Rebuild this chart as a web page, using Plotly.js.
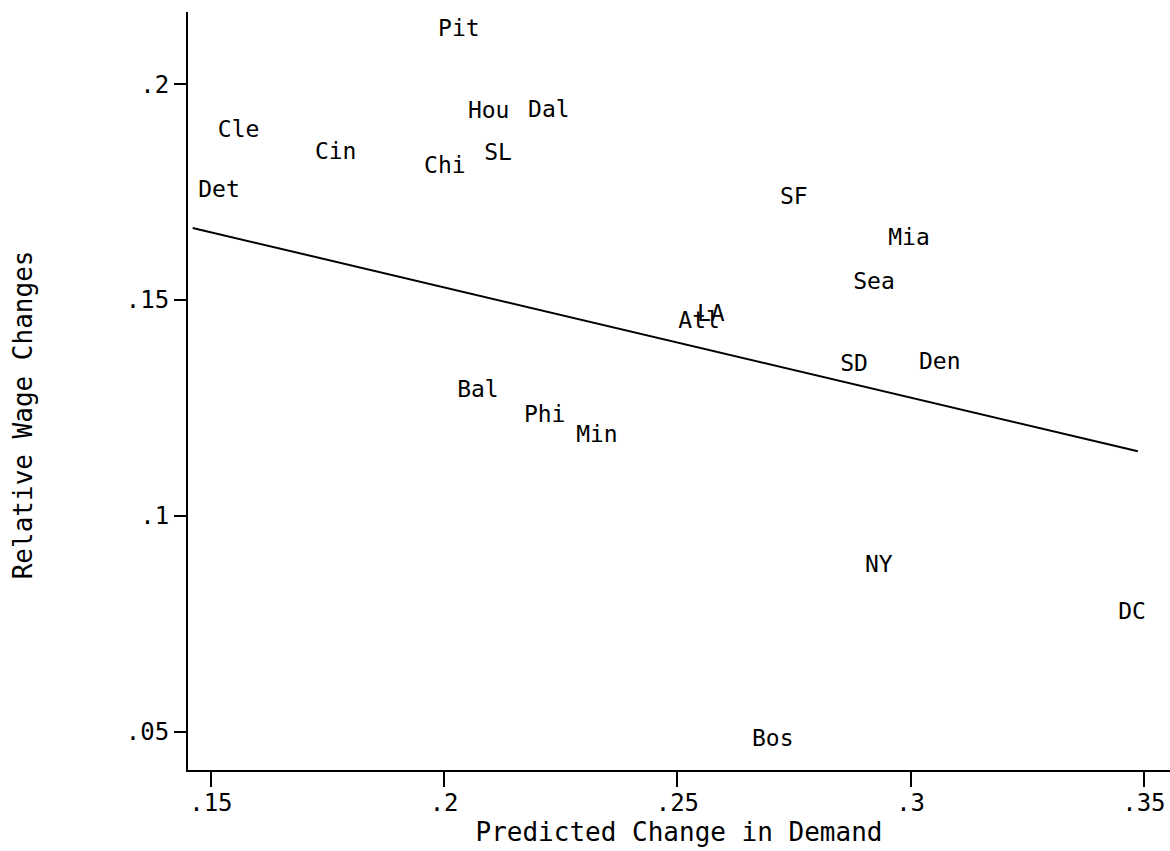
<!DOCTYPE html>
<html>
<head>
<meta charset="utf-8">
<script src="https://cdn.plot.ly/plotly-3.0.1.min.js"></script>
<style>html,body{margin:0;padding:0;background:#fff;}#chart{width:1170px;height:851px;}</style>
</head>
<body>
<div id="chart"></div>
<script>
// City labels and values
const cities = ['Pit','Cle','Hou','Dal','Cin','SL','Chi','Det','SF','Mia','Sea','LA','Atl','SD','Den','Bal','Phi','Min','NY','DC','Bos'];
const demandChange = [0.1987,0.1515,0.2051,0.2180,0.1723,0.2086,0.1957,0.1473,0.2720,0.2952,0.2877,0.2542,0.2502,0.2849,0.3018,0.2028,0.2171,0.2283,0.2902,0.3445,0.2660];
const wageChange   = [0.2124,0.1892,0.1934,0.1938,0.1841,0.1837,0.1807,0.1751,0.1735,0.1640,0.1540,0.1464,0.1448,0.1350,0.1353,0.1288,0.1230,0.1184,0.0883,0.0774,0.0480];

// Fitted line end points
const fitX = [0.1461, 0.3487];
const fitY = [0.1667, 0.1150];

// Tick labels
const xTickVals = [0.15, 0.2, 0.25, 0.3, 0.35];
const xTickText = ['.15', '.2', '.25', '.3', '.35'];
const yTickVals = [0.05, 0.1, 0.15, 0.2];
const yTickText = ['.05', '.1', '.15', '.2'];

const xTitle = 'Predicted Change in Demand';
const yTitle = 'Relative Wage Changes';

const FONT = 'DejaVu Sans Mono, Liberation Mono, monospace';

const traces = [
  {
    type: 'scatter', mode: 'text',
    x: demandChange, y: wageChange, text: cities,
    textposition: 'middle right',
    textfont: {family: FONT, size: 23, color: '#000'},
    hoverinfo: 'text', showlegend: false
  },
  {
    type: 'scatter', mode: 'lines',
    x: fitX, y: fitY,
    line: {color: '#000', width: 2},
    showlegend: false, hoverinfo: 'skip'
  }
];

const layout = {
  width: 1170, height: 851,
  paper_bgcolor: '#fff', plot_bgcolor: '#fff',
  margin: {l: 188, r: 0, t: 12, b: 81},
  font: {family: FONT, color: '#000'},
  showlegend: false,
  xaxis: {
    range: [0.1451, 0.3556],
    tickvals: xTickVals, ticktext: xTickText,
    ticks: 'outside', ticklen: 15, tickwidth: 2, tickcolor: '#000',
    ticklabelstandoff: -5,
    showline: true, linecolor: '#000', linewidth: 2,
    showgrid: false, zeroline: false,
    tickfont: {family: FONT, size: 24, color: '#000'},
    title: {text: xTitle, font: {family: FONT, size: 26, color: '#000'}, standoff: 4}
  },
  yaxis: {
    range: [0.0412, 0.2167],
    tickvals: yTickVals, ticktext: yTickText,
    ticks: 'outside', ticklen: 12, tickwidth: 2, tickcolor: '#000',
    showline: true, linecolor: '#000', linewidth: 2,
    showgrid: false, zeroline: false,
    tickfont: {family: FONT, size: 24, color: '#000'}
  },
  annotations: [
    {
      text: yTitle, textangle: -90, showarrow: false,
      xref: 'paper', yref: 'paper', x: -0.168, y: 0.468,
      xanchor: 'center', yanchor: 'middle',
      font: {family: FONT, size: 26, color: '#000'}
    }
  ]
};

Plotly.newPlot('chart', traces, layout, {displayModeBar: false, staticPlot: true});
</script>
</body>
</html>
